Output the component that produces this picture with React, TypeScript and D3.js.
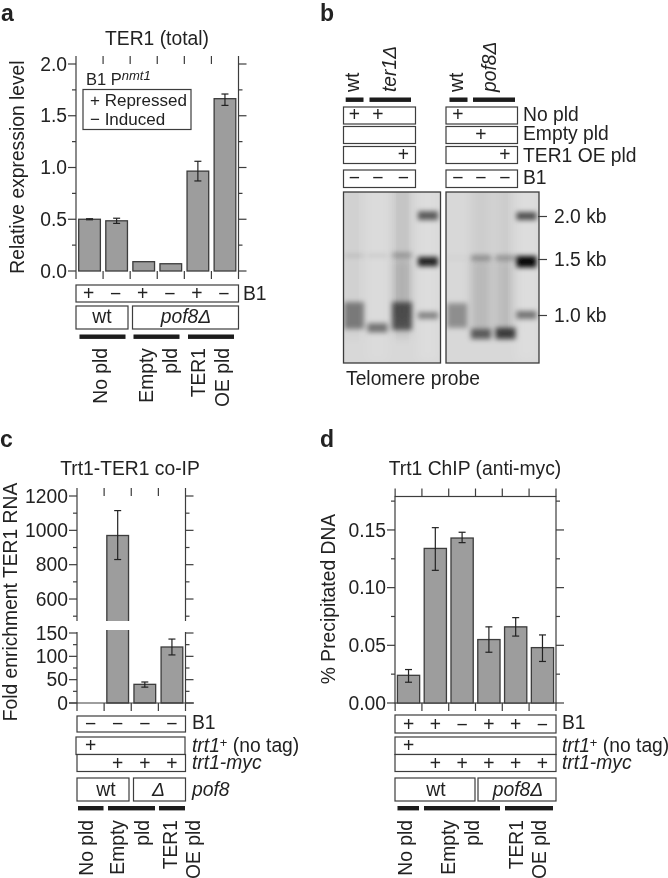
import * as d3 from "d3";

const FONT = "'Liberation Sans', Arial, sans-serif";
const INK = "#222";
const LINE = "#3c3c3c";
const BAR = "#9d9d9d";
const TEXT_SIZE = 19.3;

// panel a
const aSamples = ["wt+", "wt-", "empty+", "empty-", "oe+", "oe-"];
const aValues = [0.5, 0.485, 0.09, 0.07, 0.965, 1.665];
const aErrLow = [0.495, 0.46, 0.09, 0.07, 0.87, 1.6];
const aErrHigh = [0.505, 0.51, 0.09, 0.07, 1.06, 1.71];
const aYTicks = [0, 0.5, 1, 1.5, 2];
const aYMinor = [0.25, 0.75, 1.25, 1.75];
const aB1 = ["+", "−", "+", "−", "+", "−"];

// panel c
const cSamples = ["wt-none", "wt-empty", "del-empty", "del-oe"];
const cValues = [null, 970, 40, 120];
const cErrLow = [null, 830, 34, 103];
const cErrHigh = [null, 1115, 45, 137];
const cUpperTicks = [600, 800, 1000, 1200];
const cUpperMinor = [500, 700, 900, 1100];
const cLowerTicks = [0, 50, 100, 150];
const cLowerMinor = [25, 75, 125];
const cB1 = ["−", "−", "−", "−"];
const cUntagged = ["+", "", "", ""];
const cTagged = ["", "+", "+", "+"];

// panel d
const dSamples = ["a", "b", "c", "d", "e", "f"];
const dValues = [0.024, 0.134, 0.143, 0.055, 0.066, 0.048];
const dErrLow = [0.018, 0.115, 0.139, 0.044, 0.058, 0.036];
const dErrHigh = [0.029, 0.152, 0.148, 0.066, 0.074, 0.059];
const dYTicks = [0, 0.05, 0.1, 0.15];
const dYMinor = [0.025, 0.075, 0.125, 0.175];
const dB1 = ["+", "+", "−", "+", "+", "−"];
const dUntagged = ["+", "", "", "", "", ""];
const dTagged = ["", "+", "+", "+", "+", "+"];

// panel b: [lane, kb from, kb to, signal]
const sizeLabels = [2, 1.5, 1];
const gelLeftBands: number[][] = [
  [0, 1.53, 1.56, 0.14],
  [1, 1.53, 1.56, 0.11],
  [2, 1.52, 1.58, 0.25],
  [3, 1.96, 2.06, 0.6],
  [3, 1.44, 1.53, 0.85],
  [3, 0.97, 1.03, 0.42],
  [0, 0.88, 1.12, 0.42],
  [1, 0.85, 0.93, 0.48],
  [2, 0.87, 1.12, 0.58],
];
const gelRightBands: number[][] = [
  [0, 1.51, 1.53, 0.07],
  [1, 1.49, 1.55, 0.3],
  [2, 1.49, 1.55, 0.28],
  [3, 1.96, 2.05, 0.65],
  [3, 1.43, 1.54, 0.97],
  [3, 0.97, 1.04, 0.48],
  [0, 0.89, 1.11, 0.34],
  [1, 0.79, 0.88, 0.55],
  [2, 0.79, 0.89, 0.7],
];
const gelLeftSmears: number[][] = [
  [0, 0.8, 2.4, 0.03],
  [2, 0.8, 2.4, 0.09],
  [2, 0.95, 1.5, 0.1],
  [3, 0.6, 2.4, -0.12],
  [1, 0.6, 2.4, -0.08],
];
const gelRightSmears: number[][] = [
  [1, 0.8, 2.4, 0.05],
  [2, 0.8, 2.4, 0.05],
  [1, 0.85, 1.5, 0.1],
  [2, 0.85, 1.5, 0.09],
  [3, 0.6, 2.4, -0.12],
];

const Label = ({ x, y, size = TEXT_SIZE, anchor = "start", italic = false, bold = false, children, rotate = false }: any) => (
  <text
    x={rotate ? 0 : x}
    y={rotate ? 0 : y}
    transform={rotate ? `translate(${x},${y}) rotate(-90)` : undefined}
    fontFamily={FONT}
    fontSize={size}
    textAnchor={anchor}
    fontStyle={italic ? "italic" : "normal"}
    fontWeight={bold ? "bold" : "normal"}
    fill={INK}
  >
    {children}
  </text>
);

const Box = ({ x0, x1, y0, y1 }: any) => (
  <rect x={x0} y={y0} width={x1 - x0} height={y1 - y0} fill="#fff" stroke={LINE} strokeWidth={1.2} />
);

const Signs = ({ signs, xAt, y }: any) => (
  <>
    {signs.map((s: string, i: number) =>
      s ? (
        <Label key={i} x={xAt(i)} y={y} anchor="middle">
          {s}
        </Label>
      ) : null
    )}
  </>
);

const ThickBars = ({ spans, y }: any) => (
  <>
    {spans.map((s: number[], i: number) => (
      <rect key={i} x={s[0]} y={y} width={s[1] - s[0]} height={4.4} fill="#1a1a1a" />
    ))}
  </>
);

const XLabels = ({ names, xs, y }: any) => (
  <>
    {names.map((n: string, i: number) => (
      <Label key={i} rotate x={xs[i]} y={y} anchor="end">
        {n}
      </Label>
    ))}
  </>
);

const Whisker = ({ x, y0, y1 }: any) => (
  <g stroke="#222" strokeWidth={1.2}>
    <line x1={x} x2={x} y1={y0} y2={y1} />
    <line x1={x - 3.5} x2={x + 3.5} y1={y0} y2={y0} />
    <line x1={x - 3.5} x2={x + 3.5} y1={y1} y2={y1} />
  </g>
);

const YTicks = ({ scale, ticks, minor, x0, x1, format }: any) => (
  <g stroke={LINE} strokeWidth={1.2}>
    {ticks.map((t: number) => (
      <g key={t}>
        <line x1={x0 - 8} x2={x0} y1={scale(t)} y2={scale(t)} />
        <line x1={x1} x2={x1 + 8} y1={scale(t)} y2={scale(t)} />
        <text
          x={x0 - 9}
          y={scale(t) + 6.6}
          textAnchor="end"
          fontFamily={FONT}
          fontSize={TEXT_SIZE}
          fill={INK}
          stroke="none"
        >
          {format(t)}
        </text>
      </g>
    ))}
    {minor.map((t: number) => (
      <g key={t}>
        <line x1={x0 - 4} x2={x0} y1={scale(t)} y2={scale(t)} />
        <line x1={x1} x2={x1 + 4} y1={scale(t)} y2={scale(t)} />
      </g>
    ))}
  </g>
);

const XEdges = ({ xs, top, bottom }: any) => (
  <g stroke={LINE} strokeWidth={1.2}>
    {xs.map((x: number, i: number) => (
      <g key={i}>
        <line x1={x} x2={x} y1={top - 8} y2={top} />
        <line x1={x} x2={x} y1={bottom} y2={bottom + 8} />
      </g>
    ))}
  </g>
);

const bandEdges = (x: d3.ScaleBand<string>, samples: string[]) => [
  ...samples.map((s) => x(s)! - (x.step() - x.bandwidth()) / 2),
  x.range()[1],
];

const PanelA = () => {
  const x = d3.scaleBand().domain(aSamples).range([76, 238.5]).paddingInner(0.2).paddingOuter(0.1);
  const y = d3.scaleLinear().domain([0, 2]).range([271, 64]);
  const xc = (i: number) => x(aSamples[i])! + x.bandwidth() / 2;
  return (
    <g>
      <Label x={1} y={21} size={23} bold>a</Label>
      <Label x={157} y={45} anchor="middle">TER1 (total)</Label>
      <Label rotate x={24} y={167} anchor="middle">Relative expression level</Label>
      <line x1={76} x2={76} y1={64} y2={271} stroke={LINE} strokeWidth={1.2} />
      <line x1={238.5} x2={238.5} y1={64} y2={271} stroke={LINE} strokeWidth={1.2} />
      <XEdges xs={bandEdges(x, aSamples)} top={64} bottom={271} />
      <YTicks scale={y} ticks={aYTicks} minor={aYMinor} x0={76} x1={238.5} format={d3.format(".1f")} />
      {aSamples.map((s, i) => (
        <g key={s}>
          <rect x={x(s)} y={y(aValues[i])} width={x.bandwidth()} height={271 - y(aValues[i])} fill={BAR} stroke={LINE} strokeWidth={1.3} />
          {aErrHigh[i] > aErrLow[i] && <Whisker x={xc(i)} y0={y(aErrLow[i])} y1={y(aErrHigh[i])} />}
        </g>
      ))}
      <Label x={86} y={85} size={16.5}>
        B1 P<tspan fontStyle="italic" fontSize={13} dy={-5}>nmt1</tspan>
      </Label>
      <rect x={83} y={89.5} width={108} height={40} fill="#fff" stroke={LINE} strokeWidth={1.2} />
      <Label x={90} y={106} size={17}>+ Repressed</Label>
      <Label x={90} y={125} size={17}>− Induced</Label>

      <Box x0={76} x1={238.5} y0={285} y1={302} />
      <Signs signs={aB1} xAt={(i: number) => xc(i) - 1} y={300} />
      <Label x={243} y={300}>B1</Label>
      <Box x0={76} x1={128} y0={306} y1={329} />
      <Box x0={132.5} x1={238.5} y0={306} y1={329} />
      <Label x={102} y={323} anchor="middle">wt</Label>
      <Label x={186} y={323} anchor="middle" italic>pof8Δ</Label>
      <ThickBars y={334.5} spans={[[79.5, 125.5], [133.5, 179.5], [188, 234]]} />
      <XLabels y={348} names={["No pld", "Empty", "pld", "TER1", "OE pld"]} xs={[106.5, 152.5, 176.5, 205, 228.5]} />
    </g>
  );
};

const Gel = ({ x0, x1, lanes, bands, smears, laneWidth }: any) => {
  const lane = d3.scaleLinear().domain([0, 1, 2, 3]).range(lanes);
  const kb = d3.scaleLinear().domain([1, 1.5, 2]).range([315.5, 259.5, 216.5]);
  const id = `gel${x0}`;
  const strip = (row: number[], key: string) => {
    const [l, from, to, signal] = row;
    return (
      <rect
        key={key}
        x={lane(l) - laneWidth / 2}
        width={laneWidth}
        y={kb(to)}
        height={kb(from) - kb(to)}
        fill={signal < 0 ? "#fff" : "#000"}
        opacity={Math.abs(signal)}
      />
    );
  };
  return (
    <g>
      <clipPath id={`${id}-clip`}>
        <rect x={x0} y={192} width={x1 - x0} height={171} />
      </clipPath>
      <filter id={`${id}-soft`} x="-30%" y="-30%" width="160%" height="160%">
        <feGaussianBlur stdDeviation={2.8} />
      </filter>
      <filter id={`${id}-wide`} x="-30%" y="-30%" width="160%" height="160%">
        <feGaussianBlur stdDeviation={4} />
      </filter>
      <g clipPath={`url(#${id}-clip)`}>
        <rect x={x0} y={192} width={x1 - x0} height={171} fill="#d8d8d8" />
        <g filter={`url(#${id}-wide)`}>{smears.map((r: number[], i: number) => strip(r, `s${i}`))}</g>
        <g filter={`url(#${id}-soft)`}>{bands.map((r: number[], i: number) => strip(r, `b${i}`))}</g>
      </g>
      <rect x={x0} y={192} width={x1 - x0} height={171} fill="none" stroke="#3a3a3a" strokeWidth={1.3} />
    </g>
  );
};

const PanelB = () => {
  const kb = d3.scaleLinear().domain([1, 1.5, 2]).range([315.5, 259.5, 216.5]);
  const rows: [number, number][] = [[107, 124], [126.5, 143.5], [146.5, 163.5], [170, 187.5]];
  const rowNames = ["No pld", "Empty pld", "TER1 OE pld", "B1"];
  const signY = [121, 141, 161, 184];
  const nameY = [121, 140, 162, 184];
  const leftX = [354.5, 378, 403.5];
  const rightX = [458, 481, 505];
  const leftSigns = [["+", "+", ""], ["", "", ""], ["", "", "+"], ["−", "−", "−"]];
  const rightSigns = [["+", "", ""], ["", "+", ""], ["", "", "+"], ["−", "−", "−"]];
  return (
    <g>
      <Label x={320} y={21} size={23} bold>b</Label>
      <Label rotate x={359} y={92}>wt</Label>
      <Label rotate x={396} y={92} italic>ter1Δ</Label>
      <Label rotate x={463} y={92}>wt</Label>
      <Label rotate x={496} y={92} italic>pof8Δ</Label>
      <ThickBars y={97.5} spans={[[345.7, 363.5], [369.5, 411], [449.5, 467.5], [473, 515]]} />
      {rows.map((r, i) => (
        <g key={i}>
          <Box x0={343.5} x1={415.5} y0={r[0]} y1={r[1]} />
          <Box x0={446} x1={517.5} y0={r[0]} y1={r[1]} />
          <Signs signs={leftSigns[i]} xAt={(j: number) => leftX[j]} y={signY[i]} />
          <Signs signs={rightSigns[i]} xAt={(j: number) => rightX[j]} y={signY[i]} />
          <Label x={523} y={nameY[i]}>{rowNames[i]}</Label>
        </g>
      ))}
      <Gel x0={343.5} x1={440.5} lanes={[354, 377.5, 402, 428]} laneWidth={20} bands={gelLeftBands} smears={gelLeftSmears} />
      <Gel x0={446} x1={539} lanes={[457, 481, 505.5, 526.5]} laneWidth={20} bands={gelRightBands} smears={gelRightSmears} />
      {sizeLabels.map((k) => (
        <g key={k}>
          <line x1={538} x2={547} y1={kb(k)} y2={kb(k)} stroke={LINE} strokeWidth={1.2} />
          <Label x={554} y={kb(k) + 6.6}>{`${k.toFixed(1)} kb`}</Label>
        </g>
      ))}
      <Label x={346} y={385}>Telomere probe</Label>
    </g>
  );
};

const PanelC = () => {
  const x = d3.scaleBand().domain(cSamples).range([77, 185.5]).paddingInner(0.2).paddingOuter(0.1);
  const upper = d3.scaleLinear().domain([472, 1200]).range([621, 496]);
  const lower = d3.scaleLinear().domain([0, 150]).range([703, 633]);
  const y = (v: number) => (v > 300 ? upper(v) : lower(v));
  const xc = (i: number) => x(cSamples[i])! + x.bandwidth() / 2;
  return (
    <g>
      <Label x={0} y={447} size={23} bold>c</Label>
      <Label x={130} y={475} anchor="middle">Trt1-TER1 co-IP</Label>
      <Label rotate x={17} y={602} anchor="middle">Fold enrichment TER1 RNA</Label>
      <g stroke={LINE} strokeWidth={1.2}>
        <line x1={77} x2={77} y1={496} y2={621} />
        <line x1={185.5} x2={185.5} y1={496} y2={621} />
        <line x1={77} x2={77} y1={632} y2={703} />
        <line x1={185.5} x2={185.5} y1={632} y2={703} />
      </g>
      <XEdges xs={bandEdges(x, cSamples)} top={496} bottom={703} />
      <YTicks scale={upper} ticks={cUpperTicks} minor={cUpperMinor} x0={77} x1={185.5} format={String} />
      <YTicks scale={lower} ticks={cLowerTicks} minor={cLowerMinor} x0={77} x1={185.5} format={String} />
      {cSamples.map((s, i) => {
        const v = cValues[i];
        if (v === null) return null;
        return (
          <rect key={s} x={x(s)} y={y(v)} width={x.bandwidth()} height={703 - y(v)} fill={BAR} stroke={LINE} strokeWidth={1.3} />
        );
      })}
      <rect x={x("wt-empty")! - 2} y={621} width={x.bandwidth() + 4} height={9} fill="#fff" />
      {cSamples.map((s, i) =>
        cValues[i] === null ? null : <Whisker key={s} x={xc(i)} y0={y(cErrLow[i]!)} y1={y(cErrHigh[i]!)} />
      )}
      <line x1={69} x2={194} y1={703} y2={703} stroke={LINE} strokeWidth={1.2} />

      <Box x0={77} x1={185.5} y0={716} y1={732} />
      <Signs signs={cB1} xAt={xc} y={730} />
      <Label x={192} y={729}>B1</Label>
      <Box x0={76} x1={185} y0={737} y1={754.5} />
      <Box x0={77} x1={185.5} y0={754.5} y1={771.5} />
      <Signs signs={cUntagged} xAt={xc} y={752} />
      <Signs signs={cTagged} xAt={xc} y={769.5} />
      <Label x={192} y={752} italic>
        trt1<tspan fontSize={13} dy={-5} fontStyle="normal">+</tspan>
        <tspan dy={5} fontStyle="normal"> (no tag)</tspan>
      </Label>
      <Label x={192} y={769} italic>trt1-myc</Label>
      <Box x0={77} x1={129} y0={778} y1={801} />
      <Box x0={133.5} x1={185.5} y0={778} y1={801} />
      <Label x={106} y={796} anchor="middle">wt</Label>
      <Label x={158.5} y={796} anchor="middle" italic>Δ</Label>
      <Label x={192} y={796} italic>pof8</Label>
      <ThickBars y={806} spans={[[78, 103.5], [108, 155], [159, 185]]} />
      <XLabels y={820} names={["No pld", "Empty", "pld", "TER1", "OE pld"]} xs={[93, 124, 149, 176.5, 200]} />
    </g>
  );
};

const PanelD = () => {
  const x = d3.scaleBand().domain(dSamples).range([395, 556]).paddingInner(0.17).paddingOuter(0.09);
  const y = d3.scaleLinear().domain([0, 0.179]).range([703, 496.5]);
  const xc = (i: number) => x(dSamples[i])! + x.bandwidth() / 2;
  return (
    <g>
      <Label x={320} y={447} size={23} bold>d</Label>
      <Label x={475} y={475} anchor="middle">Trt1 ChIP (anti-myc)</Label>
      <Label rotate x={334.5} y={599} anchor="middle">% Precipitated DNA</Label>
      <rect x={395} y={496.5} width={161} height={206.5} fill="none" stroke={LINE} strokeWidth={1.2} />
      <XEdges xs={bandEdges(x, dSamples)} top={496.5} bottom={703} />
      <YTicks scale={y} ticks={dYTicks} minor={dYMinor} x0={395} x1={556} format={d3.format(".2f")} />
      {dSamples.map((s, i) => (
        <g key={s}>
          <rect x={x(s)} y={y(dValues[i])} width={x.bandwidth()} height={703 - y(dValues[i])} fill={BAR} stroke={LINE} strokeWidth={1.3} />
          <Whisker x={xc(i)} y0={y(dErrLow[i])} y1={y(dErrHigh[i])} />
        </g>
      ))}

      <Box x0={395} x1={556} y0={715} y1={733} />
      <Signs signs={dB1} xAt={xc} y={730.5} />
      <Label x={562} y={729}>B1</Label>
      <Box x0={395} x1={556} y0={737} y1={754.5} />
      <Box x0={395} x1={556} y0={754.5} y1={771.5} />
      <Signs signs={dUntagged} xAt={xc} y={752} />
      <Signs signs={dTagged} xAt={xc} y={769.5} />
      <Label x={562} y={752} italic>
        trt1<tspan fontSize={13} dy={-5} fontStyle="normal">+</tspan>
        <tspan dy={5} fontStyle="normal"> (no tag)</tspan>
      </Label>
      <Label x={562} y={769} italic>trt1-myc</Label>
      <Box x0={395} x1={475} y0={778} y1={801} />
      <Box x0={478} x1={556} y0={778} y1={801} />
      <Label x={436} y={796} anchor="middle">wt</Label>
      <Label x={518} y={796} anchor="middle" italic>pof8Δ</Label>
      <ThickBars y={806} spans={[[397.5, 419], [424, 500], [505, 553]]} />
      <XLabels y={820} names={["No pld", "Empty", "pld", "TER1", "OE pld"]} xs={[411.5, 455, 479, 522.5, 546]} />
    </g>
  );
};

export default function App() {
  return (
    <svg
      width={668}
      height={878}
      viewBox="0 0 668 878"
      style={{ position: "absolute", left: 0, top: 0, background: "#fff" }}
    >
      <filter id="print-soft" x="0" y="0" width="100%" height="100%">
        <feGaussianBlur stdDeviation={0.35} />
      </filter>
      <g filter="url(#print-soft)">
        <PanelA />
        <PanelB />
        <PanelC />
        <PanelD />
      </g>
    </svg>
  );
}
